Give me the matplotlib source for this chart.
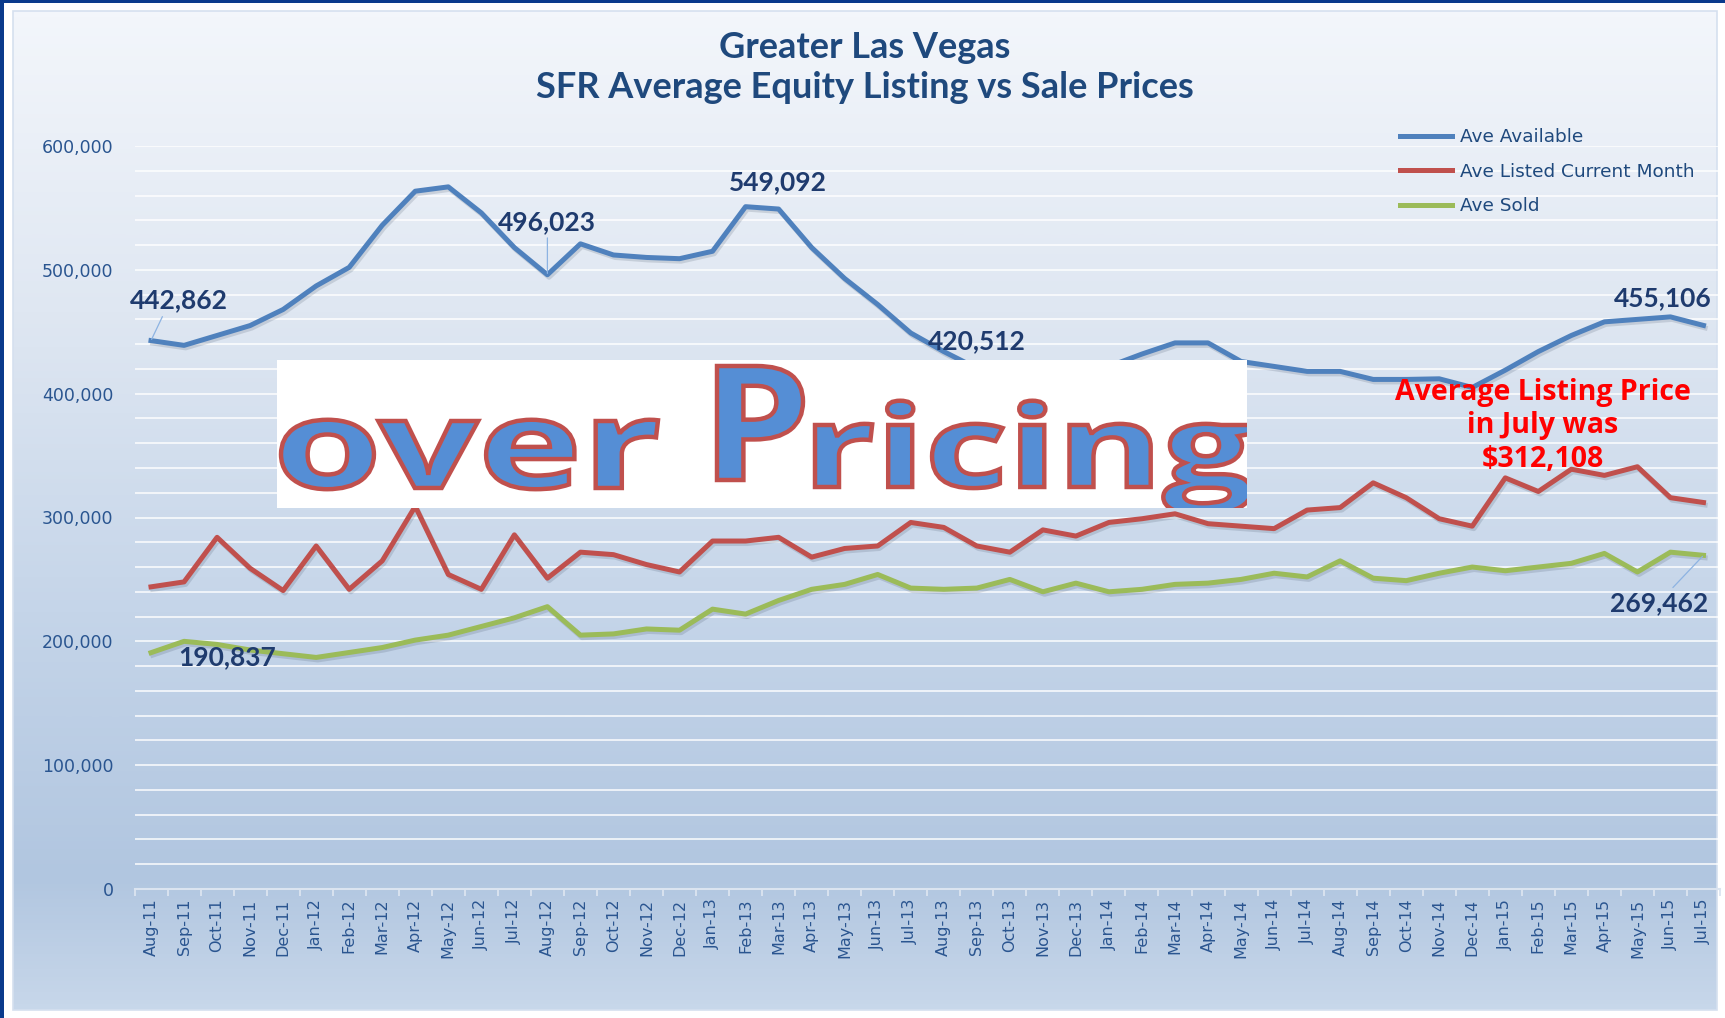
"""Greater Las Vegas SFR average equity listing vs sale prices, Aug-11 to Jul-15."""

import numpy as np
import matplotlib
matplotlib.use("Agg")
import matplotlib.pyplot as plt
import matplotlib.patheffects as pe
from matplotlib.colors import LinearSegmentedColormap
from matplotlib.font_manager import FontProperties
from matplotlib.lines import Line2D
from matplotlib.patches import PathPatch, Rectangle
from matplotlib.textpath import TextPath
from matplotlib.ticker import FuncFormatter, MultipleLocator
from matplotlib.transforms import Affine2D


MONTHS = [
    "Aug-11", "Sep-11", "Oct-11", "Nov-11", "Dec-11",
    "Jan-12", "Feb-12", "Mar-12", "Apr-12", "May-12", "Jun-12",
    "Jul-12", "Aug-12", "Sep-12", "Oct-12", "Nov-12", "Dec-12",
    "Jan-13", "Feb-13", "Mar-13", "Apr-13", "May-13", "Jun-13",
    "Jul-13", "Aug-13", "Sep-13", "Oct-13", "Nov-13", "Dec-13",
    "Jan-14", "Feb-14", "Mar-14", "Apr-14", "May-14", "Jun-14",
    "Jul-14", "Aug-14", "Sep-14", "Oct-14", "Nov-14", "Dec-14",
    "Jan-15", "Feb-15", "Mar-15", "Apr-15", "May-15", "Jun-15", "Jul-15",
]

AVE_AVAILABLE = [
    442862, 439000, 447000, 455000, 468000,
    487000, 502000, 536000, 563500, 567000, 546000,
    518000, 496023, 521000, 512000, 510000, 509000,
    515000, 551000, 549092, 518000, 493000, 472000,
    449000, 434000, 420512, 413000, 410000, 416000,
    422000, 432000, 441000, 441000, 426000, 422000,
    418000, 418000, 411500, 411500, 412000, 405000,
    419000, 434000, 447000, 458000, 460000, 462000, 455106,
]

AVE_LISTED = [
    244000, 248000, 284000, 259000, 241000,
    277000, 242000, 265000, 309000, 254000, 242000,
    286000, 251000, 272000, 270000, 262000, 256000,
    281000, 281000, 284000, 268000, 275000, 277000,
    296000, 292000, 277000, 272000, 290000, 285000,
    296000, 299000, 303000, 295000, 293000, 291000,
    306000, 308000, 328000, 316000, 299000, 293000,
    332000, 321000, 339000, 334000, 341000, 316000, 312108,
]

AVE_SOLD = [
    190837, 200000, 197500, 193000, 190000,
    187000, 191000, 195000, 201000, 205000, 212000,
    219000, 228000, 205000, 206000, 210000, 209000,
    226000, 222000, 233000, 242000, 246000, 254000,
    243000, 242000, 243000, 250000, 240000, 247000,
    240000, 242000, 246000, 247000, 250000, 255000,
    252000, 265000, 251000, 249000, 255000, 260000,
    257000, 260000, 263000, 271000, 256000, 272000, 269462,
]

SERIES_NAMES = ["Ave Available", "Ave Listed Current Month", "Ave Sold"]
TITLE_LINES = ["Greater Las Vegas", "SFR Average Equity Listing vs Sale Prices"]
STAMP_WORDS = ["over", "P", "ricing"]

W, H = 1725, 1018
BLUE, RED, GREEN = "#4f81bd", "#c0504d", "#9bbb59"
NAVY_TEXT = "#1f497d"
LABEL_TEXT = "#1f3b6e"


def fx(px):
    return px / W


def fy(py):
    return 1 - py / H


fig = plt.figure(figsize=(W / 100, H / 100), dpi=100)

# background: navy border, white margin, blue gradient panel
bg = fig.add_axes([0, 0, 1, 1], zorder=-10)
bg.set_axis_off()
bg.add_patch(Rectangle((0, 0), W, H, facecolor="white", edgecolor="none", zorder=0))
grad_cmap = LinearSegmentedColormap.from_list(
    "panel",
    [(0.0, "#f3f6fb"), (0.3, "#dfe7f2"), (0.6, "#c5d5e9"),
     (0.87, "#b1c6e0"), (1.0, "#c7d7ea")],
)
grad = np.linspace(0, 1, 256).reshape(-1, 1)
bg.imshow(grad, cmap=grad_cmap, aspect="auto", extent=[13, 1717, 1010, 11],
          interpolation="bilinear", zorder=1)
bg.add_patch(Rectangle((0, 0), 4, H, facecolor="#0a3a8c", edgecolor="none", zorder=2))
bg.add_patch(Rectangle((0, 0), W, 3, facecolor="#0a3a8c", edgecolor="none", zorder=2))
bg.add_patch(Rectangle((13, 11), 1704, 999, facecolor="none",
                       edgecolor="#d5e0ef", lw=1.2, zorder=2))
bg.set_xlim(0, W)
bg.set_ylim(H, 0)

# main chart axes
ax = fig.add_axes([fx(134.5), fy(889), fx(1720 - 134.5), (889 - 146) / H])
ax.patch.set_alpha(0)
x = np.arange(len(MONTHS))

shadow = [pe.SimpleLineShadow(offset=(1.2, -1.8), alpha=0.14, shadow_color="#1a2a40"),
          pe.Normal()]
ax.plot(x, AVE_AVAILABLE, color=BLUE, lw=3.6, solid_joinstyle="round",
        path_effects=shadow, zorder=3)
ax.plot(x, AVE_LISTED, color=RED, lw=3.6, solid_joinstyle="round",
        path_effects=shadow, zorder=3)
ax.plot(x, AVE_SOLD, color=GREEN, lw=3.6, solid_joinstyle="round",
        path_effects=shadow, zorder=3)

ax.set_xlim(-0.5, len(MONTHS) - 0.5)
ax.set_ylim(0, 600000)
ax.yaxis.set_major_locator(MultipleLocator(100000))
ax.yaxis.set_minor_locator(MultipleLocator(20000))
ax.yaxis.set_major_formatter(FuncFormatter(lambda v, _: f"{int(v):,}"))
ax.grid(which="both", axis="y", color="white", lw=1.4, alpha=0.75, zorder=1)
ax.set_axisbelow(True)
ax.tick_params(axis="y", which="both", length=0, pad=15, labelsize=12.5,
               labelcolor="#2a5590")
for lab in ax.get_yticklabels():
    lab.set_family("DejaVu Sans")

ax.set_xticks(x)
ax.set_xticklabels(MONTHS, rotation=90, fontsize=11.5, color="#2a5590",
                   family="DejaVu Sans")
ax.set_xticks(np.arange(-0.5, len(MONTHS), 1), minor=True)
ax.tick_params(axis="x", which="major", length=0, pad=7)
ax.tick_params(axis="x", which="minor", length=5, width=1.3, color="#dbe4f0")
for side in ("top", "right", "left"):
    ax.spines[side].set_visible(False)
ax.spines["bottom"].set_color("#dbe4f0")
ax.spines["bottom"].set_linewidth(1.5)

# data labels
lbl_font = dict(fontsize=19, fontweight="bold", color=LABEL_TEXT, family="Lato",
                ha="center", va="center", zorder=6)
leader = dict(arrowstyle="-", color="#8db3e2", lw=0.9, shrinkA=1, shrinkB=1)
ax.annotate(f"{AVE_AVAILABLE[0]:,}", xy=(0, AVE_AVAILABLE[0]), xytext=(28, 40),
            textcoords="offset pixels", arrowprops=dict(leader, relpos=(0.35, 0.0)),
            **lbl_font)
ax.annotate(f"{AVE_AVAILABLE[12]:,}", xy=(12, AVE_AVAILABLE[12]), xytext=(0, 53),
            textcoords="offset pixels", arrowprops=dict(leader, relpos=(0.5, 0.0)),
            **lbl_font)
ax.annotate(f"{AVE_AVAILABLE[19]:,}", xy=(19, AVE_AVAILABLE[19]), xytext=(-1, 27),
            textcoords="offset pixels", **lbl_font)
ax.annotate(f"{AVE_AVAILABLE[25]:,}", xy=(25, AVE_AVAILABLE[25]), xytext=(0, 27),
            textcoords="offset pixels", **lbl_font)
ax.annotate(f"{AVE_AVAILABLE[47]:,}", xy=(47, AVE_AVAILABLE[47]), xytext=(-41, 27),
            textcoords="offset pixels", **lbl_font)
ax.annotate(f"{AVE_SOLD[0]:,}", xy=(0, AVE_SOLD[0]), xytext=(76, -4),
            textcoords="offset pixels", **lbl_font)
ax.annotate(f"{AVE_SOLD[47]:,}", xy=(47, AVE_SOLD[47]), xytext=(-44, -48),
            textcoords="offset pixels", arrowprops=dict(leader, relpos=(0.6, 1.0)),
            **lbl_font)

# overlay for the stamp box and callouts
ov = fig.add_axes([0, 0, 1, 1], zorder=5)
ov.set_axis_off()
ov.patch.set_alpha(0)
ov.set_xlim(0, W)
ov.set_ylim(H, 0)

box = Rectangle((277, 360), 1247 - 277, 508 - 360, facecolor="white",
                edgecolor="none", zorder=1)
ov.add_patch(box)
stamp_prop = FontProperties(family="Open Sans", weight="bold")
x_height = TextPath((0, 0), "x", size=100, prop=stamp_prop).get_extents().y1
cap_height = TextPath((0, 0), "P", size=100, prop=stamp_prop).get_extents().y1

# word-art: each piece squeezed into its own box (x0, x1, baseline, ref height, px)
stamp_fit = [
    (281, 658, 488, x_height, 67),
    (717, 803, 480, cap_height, 114),
    (815, 1252, 487, x_height, 62),
]
for word, (x0, x1, base, ref_h, px_h) in zip(STAMP_WORDS, stamp_fit):
    tp = TextPath((0, 0), word, size=100, prop=stamp_prop)
    ext = tp.get_extents()
    sx = (x1 - x0) / (ext.x1 - ext.x0)
    sy = px_h / ref_h
    tr = Affine2D().translate(-ext.x0, 0).scale(sx, -sy).translate(x0, base)
    patch = PathPatch(tr.transform_path(tp), facecolor="#558ed5",
                      edgecolor=RED, lw=3.2, zorder=2)
    ov.add_patch(patch)
    patch.set_clip_path(box)

ov.text(1543, 426, "Average Listing Price\nin July was\n\\$" + f"{AVE_LISTED[-1]:,}",
        ha="center", va="center", color="#ff0000", fontsize=20.5,
        fontweight="bold", family="Open Sans", linespacing=1.22, zorder=3)

# title
for line, py in zip(TITLE_LINES, (47, 87)):
    fig.text(fx(865), fy(py), line, ha="center", va="center", fontsize=26,
             fontweight="bold", color=NAVY_TEXT, family="Lato")

# legend
handles = [Line2D([], [], color=c, lw=3.6) for c in (BLUE, RED, GREEN)]
fig.legend(handles, SERIES_NAMES, loc="upper left",
           bbox_to_anchor=(fx(1400), fy(128)), frameon=False, fontsize=13.3,
           labelcolor=NAVY_TEXT, handlelength=2.8, handletextpad=0.45,
           labelspacing=0.9, borderpad=0, borderaxespad=0)

fig.savefig("out.png", dpi=100)
